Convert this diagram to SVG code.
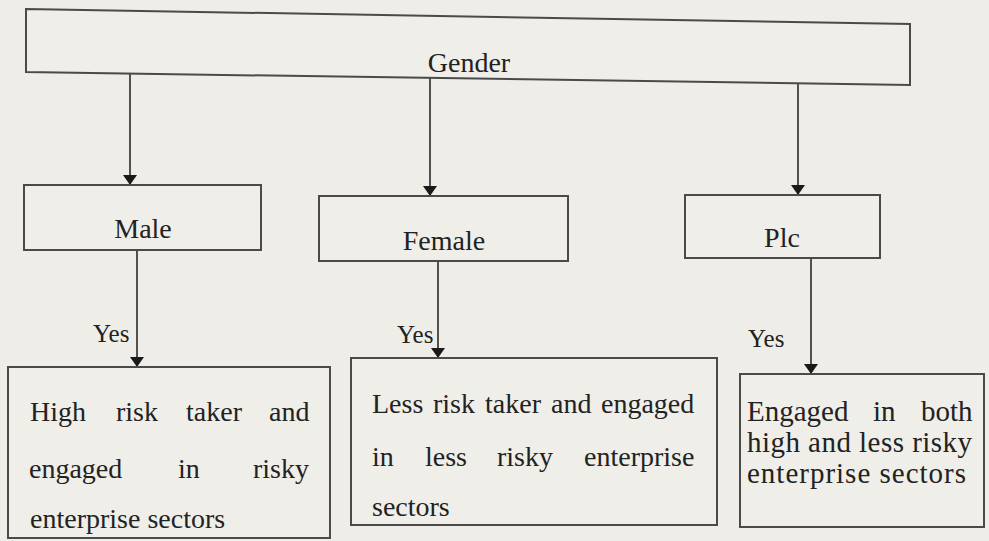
<svg xmlns="http://www.w3.org/2000/svg" width="989" height="541" viewBox="0 0 989 541">
<defs>
<style>
.bg{fill:#eeede8}
.box{fill:#efeee9;stroke:#4a4a4a;stroke-width:2}
.t{font-family:"Liberation Serif","Times New Roman",serif;font-size:28px;fill:#222}
.s{font-size:29px}
.y{font-family:"Liberation Serif","Times New Roman",serif;font-size:25px;fill:#222}
.c{text-anchor:middle}
.ln{stroke:#2a2a2a;stroke-width:1.6;fill:none;marker-end:url(#ah)}
</style>
<marker id="ah" viewBox="0 0 10 14" refX="10" refY="7" markerWidth="10" markerHeight="14" markerUnits="userSpaceOnUse" orient="auto">
<path d="M0,0 L10,7 L0,14 Z" fill="#1a1a1a"/>
</marker>
</defs>
<rect class="bg" x="0" y="0" width="989" height="541"/>
<g id="connectors">
<line class="ln" x1="130" y1="73" x2="130" y2="185"/>
<line class="ln" x1="430" y1="78" x2="430" y2="196"/>
<line class="ln" x1="798" y1="84" x2="798" y2="195"/>
<line class="ln" x1="137" y1="250" x2="137" y2="367"/>
<line class="ln" x1="438" y1="261" x2="438" y2="358"/>
<line class="ln" x1="811" y1="258" x2="811" y2="374"/>
<text class="y" x="93" y="342">Yes</text>
<text class="y" x="397" y="343">Yes</text>
<text class="y" x="748" y="347">Yes</text>
</g>
<g id="gender">
<polygon class="box" points="26,9 910,24 910,85 26,72"/>
<text class="t c" x="469" y="72">Gender</text>
</g>
<g id="male">
<rect class="box" x="24" y="185" width="237" height="65"/>
<text class="t c" x="143" y="238">Male</text>
</g>
<g id="female">
<rect class="box" x="319" y="196" width="249" height="65"/>
<text class="t c" x="444" y="250">Female</text>
</g>
<g id="plc">
<rect class="box" x="685" y="195" width="195" height="63"/>
<text class="t c" x="782" y="247">Plc</text>
</g>
<g id="male-result">
<rect class="box" x="8" y="367" width="322" height="171"/>
<text class="t" y="421"><tspan x="30">High</tspan><tspan x="116">risk</tspan><tspan x="186">taker</tspan><tspan x="269">and</tspan></text>
<text class="t" y="478"><tspan x="29">engaged</tspan><tspan x="178">in</tspan><tspan x="253">risky</tspan></text>
<text class="t" x="30" y="528">enterprise sectors</text>
</g>
<g id="female-result">
<rect class="box" x="351" y="358" width="366" height="167"/>
<text class="t" y="413"><tspan x="372">Less</tspan><tspan x="433">risk</tspan><tspan x="485">taker</tspan><tspan x="551">and</tspan><tspan x="601">engaged</tspan></text>
<text class="t" y="466"><tspan x="372">in</tspan><tspan x="425">less</tspan><tspan x="497">risky</tspan><tspan x="584">enterprise</tspan></text>
<text class="t" x="372" y="516">sectors</text>
</g>
<g id="plc-result">
<rect class="box" x="740" y="374" width="244" height="153"/>
<text class="t s" y="421"><tspan x="747">Engaged</tspan><tspan x="873">in</tspan><tspan x="921">both</tspan></text>
<text class="t s" x="747" y="452" textLength="225" lengthAdjust="spacing">high and less risky</text>
<text class="t s" x="747" y="483" textLength="219" lengthAdjust="spacing">enterprise sectors</text>
</g>
</svg>
